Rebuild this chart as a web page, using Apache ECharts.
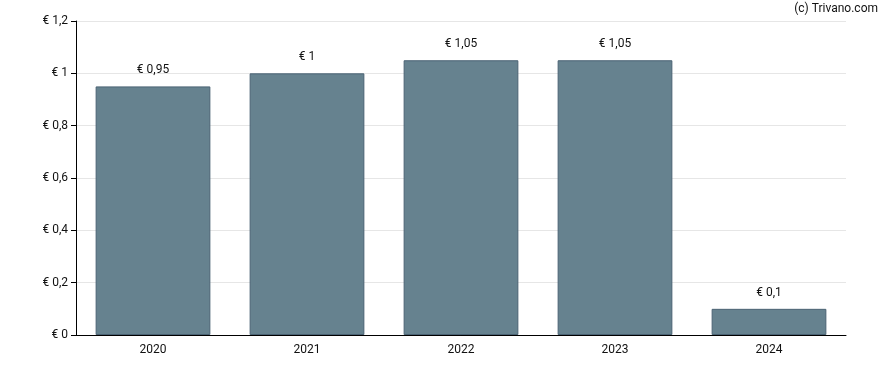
<!DOCTYPE html>
<html><head><meta charset="utf-8">
<script src="https://cdn.jsdelivr.net/npm/echarts@6/dist/echarts.min.js"></script>
<style>html,body{margin:0;padding:0;background:#fff}#c{width:888px;height:370px}</style>
</head><body><div id="c"></div>
<script>
const categories = ['2020','2021','2022','2023','2024'];
const values = [0.95, 1, 1.05, 1.05, 0.1];
const yTicks = [0, 0.2, 0.4, 0.6, 0.8, 1, 1.2];
const fmt = v => '€ ' + String(Math.round(v*100)/100).replace('.', ',');
const chart = echarts.init(document.getElementById('c'));
chart.setOption({
  animation: false,
  textStyle: {fontFamily: 'Roboto'},
  grid: {left: 76, right: 42, top: 21, bottom: 35},
  graphic: [{type: 'text', right: 10, top: 3, style: {text: '(c) Trivano.com', font: '12px Roboto', fill: '#111'}}],
  xAxis: {
    type: 'category', data: categories,
    axisLine: {lineStyle: {color: '#000'}},
    axisTick: {alignWithLabel: true, length: 5, lineStyle: {color: '#000'}},
    axisLabel: {color: '#111', fontSize: 12, margin: 9}
  },
  yAxis: {
    type: 'value', min: 0, max: 1.2, interval: 0.2,
    axisLine: {show: true, lineStyle: {color: '#000'}},
    axisTick: {show: true, length: 5, lineStyle: {color: '#000'}},
    axisLabel: {color: '#111', fontSize: 12, margin: 8, formatter: v => fmt(v)},
    splitLine: {lineStyle: {color: '#e6e6e6'}}
  },
  series: [{
    type: 'bar', data: values, barCategoryGap: '25.5%',
    itemStyle: {color: '#66828f', borderColor: '#4a6273', borderWidth: 1},
    label: {show: true, position: 'top', distance: 10, color: '#111', fontSize: 12, formatter: p => fmt(p.value)}
  }]
});
</script></body></html>
